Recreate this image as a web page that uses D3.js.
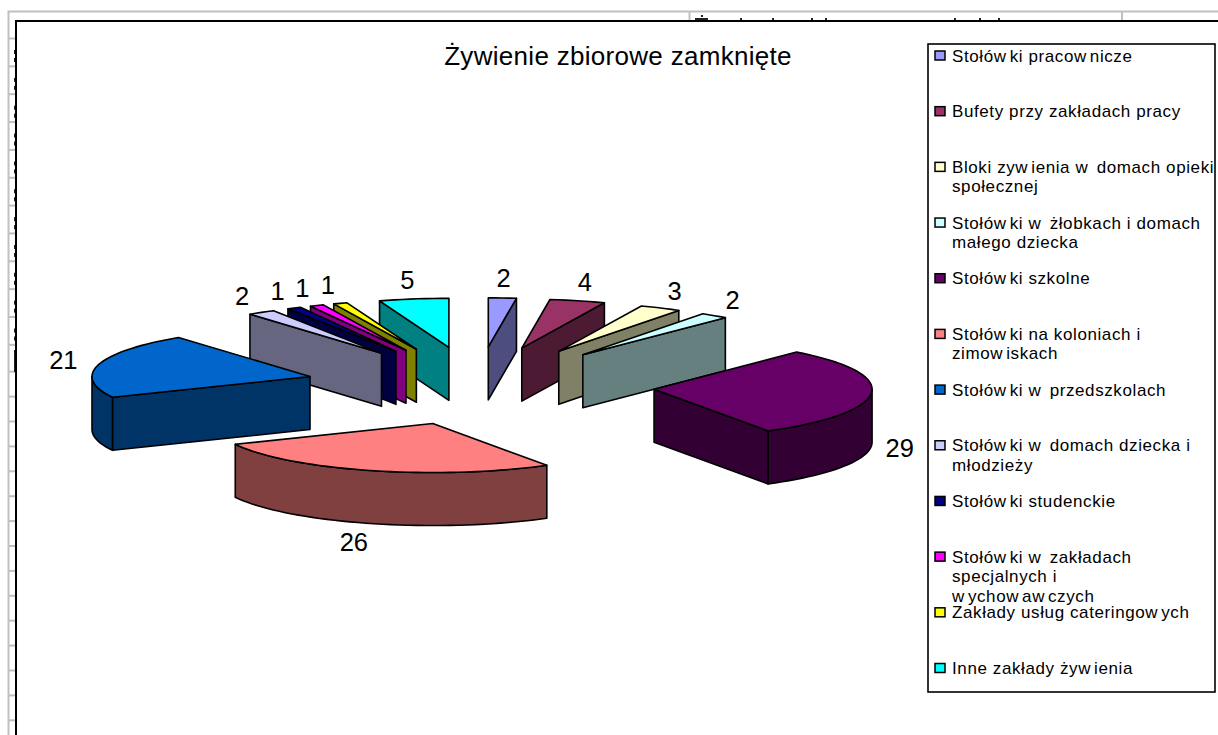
<!DOCTYPE html>
<html lang="pl">
<head>
<meta charset="utf-8">
<title>Żywienie zbiorowe zamknięte</title>
<script src="https://cdn.jsdelivr.net/npm/d3@7/dist/d3.min.js"></script>
<style>
html,body{margin:0;padding:0;background:#fff}
svg{display:block}
text{font-family:"Liberation Sans",Arial,sans-serif;fill:#000}
</style>
</head>
<body>
<svg id="chart" width="1218" height="735"></svg>
<script>
const chartTitle = "Żywienie zbiorowe zamknięte";
const categories = [
  "Stołówki pracownicze",
  "Bufety przy zakładach pracy",
  "Bloki zywienia w domach opieki|społecznej",
  "Stołówki w żłobkach i domach|małego dziecka",
  "Stołówki szkolne",
  "Stołówki na koloniach i|zimowiskach",
  "Stołówki w przedszkolach",
  "Stołówki w domach dziecka i|młodzieży",
  "Stołówki studenckie",
  "Stołówki w zakładach|specjalnych i|wychowawczych",
  "Zakłady usług cateringowych",
  "Inne zakłady żywienia"
];
const values = [2, 4, 3, 2, 29, 26, 21, 2, 1, 1, 1, 5];
const topColors = ["#9999FF","#993366","#FFFFCC","#CCFFFF","#660066","#FF8080","#0066CC","#CCCCFF","#000080","#FF00FF","#FFFF00","#00FFFF"];
const drawOrder = [11, 10, 9, 8, 7, 0, 1, 2, 3, 6, 4, 5];

const svg = d3.select("#chart");
const GRID = "#c0c0c0";

// ---- spreadsheet remnants behind the chart
const bg = svg.append("g");
bg.append("path").attr("d","M8.5 735V11.5H1218").attr("fill","none").attr("stroke",GRID).attr("stroke-width",2);
[689.5, 1122].forEach(x => bg.append("line").attr("x1",x).attr("x2",x).attr("y1",11).attr("y2",21).attr("stroke",GRID).attr("stroke-width",2));
const rowLines = d3.range(38.5, 372, 27.85).concat(d3.range(371.7, 735, 24.9));
bg.selectAll("line.row").data(rowLines).join("line").attr("class","row")
  .attr("x1",8).attr("x2",16).attr("y1",d=>d).attr("y2",d=>d).attr("stroke",GRID).attr("stroke-width",2);
// clipped glyph remnants
const stubsTop = [740, 772, 811, 825, 954, 979, 998];
bg.selectAll("rect.st").data(stubsTop).join("rect").attr("class","st")
  .attr("x",d=>d).attr("y",18).attr("width",2).attr("height",3).attr("fill","#222");
bg.append("rect").attr("x",695).attr("y",18).attr("width",13).attr("height",3).attr("fill","#222");
bg.append("rect").attr("x",701).attr("y",15).attr("width",2).attr("height",2).attr("fill","#222");
const stubsLeft = d3.range(0, 11).map(i => 50 + i * 27.85);
bg.selectAll("rect.sl").data(stubsLeft).join("rect").attr("class","sl")
  .attr("x",14).attr("y",d=>d).attr("width",2).attr("height",4).attr("fill","#222");
bg.selectAll("rect.sl2").data(stubsLeft).join("rect").attr("class","sl2")
  .attr("x",14).attr("y",d=>d+8).attr("width",2).attr("height",4).attr("fill","#222");
bg.append("rect").attr("x",14).attr("y",350).attr("width",2).attr("height",22).attr("fill","#222");

// ---- chart object frame
svg.append("path").attr("d","M16 735V21H1218").attr("fill","none").attr("stroke","#000").attr("stroke-width",2);

// ---- title
svg.append("text").attr("x",618).attr("y",65).attr("text-anchor","middle")
  .attr("font-size",26).attr("letter-spacing",0.3).text(chartTitle);

// ---- pie projection
const cx = 480, cy = 386, rx = 218, ry = 49, depth = 53, explode = 0.8, skew = 3;
const sx = d3.scaleLinear().domain([-1, 1]).range([-rx, rx]);
const sy = d3.scaleLinear().domain([-1, 1]).range([-ry, ry]);
const pie = d3.pie().sort(null).startAngle(0).endAngle(2 * Math.PI);
const arcs = pie(values);
const line = d3.line();
const px = a => sx(Math.sin(a));
const py = a => sy(-Math.cos(a));
const samples = (a0, a1) => {
  const n = Math.max(2, Math.ceil((a1 - a0) / 0.04));
  return d3.range(n + 1).map(i => a0 + (a1 - a0) * i / n);
};
const shade = c => { const r = d3.rgb(c); return d3.rgb(r.r / 2, r.g / 2, r.b / 2).formatHex(); };

const pieG = svg.append("g").attr("stroke","#000").attr("stroke-width",1.6).attr("stroke-linejoin","round");
drawOrder.forEach(i => {
  const d = arcs[i];
  const mid = (d.startAngle + d.endAngle) / 2;
  const ox = cx + explode * px(mid) - skew * Math.cos(mid), oy = cy + explode * py(mid);
  const top = a => [ox + px(a), oy + py(a)];
  const low = ([x, y]) => [x, y + depth];
  const wall = shade(topColors[i]);
  const g = pieG.append("g");
  const apex = [ox, oy];

  const radial = a => g.append("path").attr("fill", wall)
    .attr("d", line([apex, top(a), low(top(a)), low(apex)]) + "Z");
  if (d.startAngle > Math.PI) radial(d.startAngle);
  if (d.endAngle < Math.PI) radial(d.endAngle);

  const a0 = Math.max(d.startAngle, Math.PI / 2), a1 = Math.min(d.endAngle, 3 * Math.PI / 2);
  if (a1 > a0) {
    const up = samples(a0, a1).map(top);
    g.append("path").attr("fill", wall)
      .attr("d", line(up.concat(up.slice().reverse().map(low))) + "Z");
  }
  const rim = samples(d.startAngle, d.endAngle).map(top);
  g.append("path").attr("fill", topColors[i])
    .attr("d", line([apex].concat(rim)) + "Z");
});

// ---- data labels
const labelCx = 476, fx = 1.95, fy = 2.2;
svg.append("g").attr("font-size",25.5).attr("text-anchor","middle")
  .selectAll("text").data(arcs).join("text")
  .attr("x", d => labelCx + fx * px((d.startAngle + d.endAngle) / 2))
  .attr("y", d => {
    const m = (d.startAngle + d.endAngle) / 2;
    return cy + fy * py(m) + (Math.cos(m) < 0 ? depth : 0) + 9;
  })
  .text(d => d.data);

// ---- legend
const legendX = 928, legendY = 44, legendW = 287, legendH = 648;
svg.append("rect").attr("x",legendX).attr("y",legendY).attr("width",legendW).attr("height",legendH)
  .attr("fill","#fff").attr("stroke","#000").attr("stroke-width",1.6);
const rowY = d3.scalePoint().domain(d3.range(categories.length)).range([55.5, 668]);
const legend = svg.append("g");
categories.forEach((c, i) => {
  const y = rowY(i);
  legend.append("rect").attr("x",935).attr("y",y-4.5).attr("width",10).attr("height",9)
    .attr("fill",topColors[i]).attr("stroke","#000").attr("stroke-width",1.5);
  const t = legend.append("text").attr("font-size",17).attr("letter-spacing",0.6);
  c.split("|").forEach((ln, k) => {
    // reference is rendered with a small gap after every "w"
    const parts = ln.split(/(?<=w)/);
    parts.forEach((p, j) => {
      const s = t.append("tspan").text(p).style("white-space","pre");
      if (j === 0) s.attr("x",952).attr("y", y + 6 + k * 19.5);
      else s.attr("dx",3);
    });
  });
});
</script>
</body>
</html>
